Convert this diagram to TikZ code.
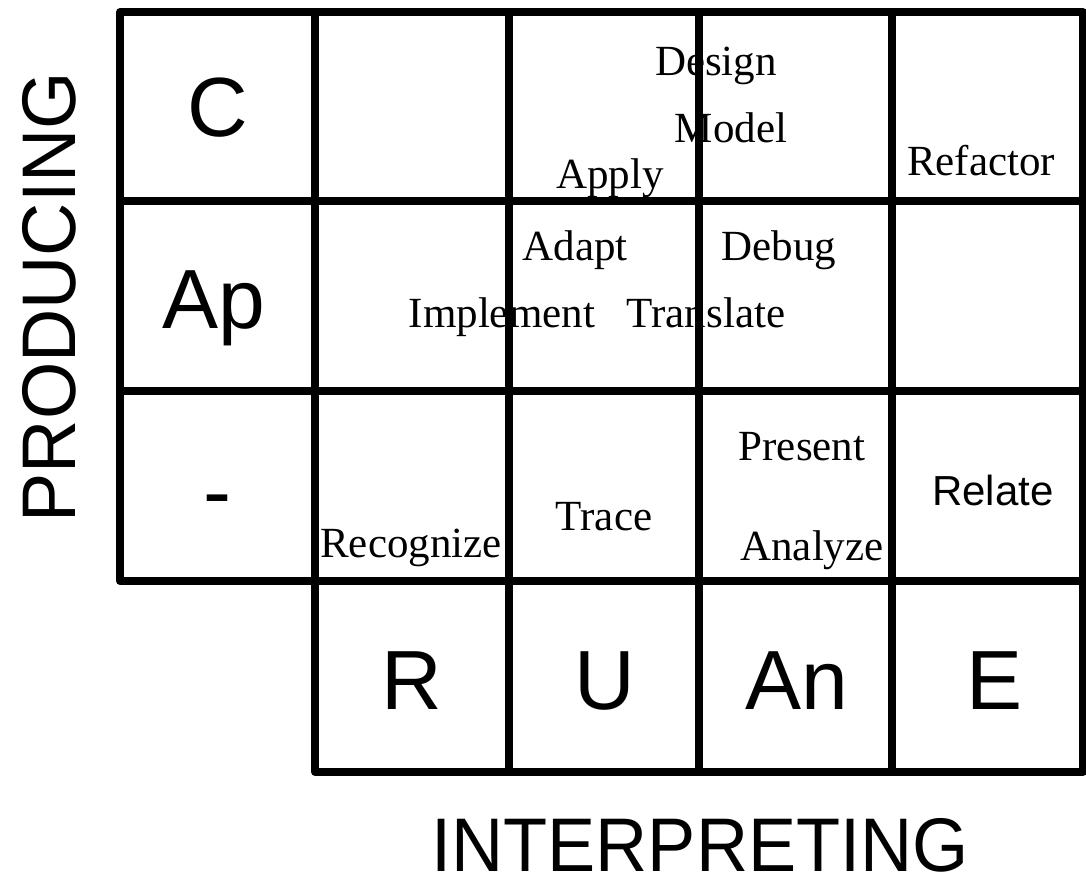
\documentclass[tikz,border=0pt]{standalone}
\usepackage{fontspec}
\setmainfont{Liberation Serif}
\setsansfont{Liberation Sans}

\begin{document}
\begin{tikzpicture}[x=1pt, y=-1pt, line width=7.5pt, line join=round,
        level/.style={font=\sffamily\fontsize{84}{84}\selectfont, anchor=base, inner sep=0pt},
        verb/.style={font=\fontsize{43}{43}\selectfont, anchor=base, inner sep=0pt},
        verbsans/.style={font=\sffamily\fontsize{42}{42}\selectfont, anchor=base, inner sep=0pt},
        axislabel/.style={font=\sffamily\fontsize{76}{76}\selectfont, anchor=base, inner sep=0pt}]
        \useasboundingbox (0,0) rectangle (1086,886);

        % grid
        \draw (120,12) rectangle (1083,581);
        \draw (315,581) -- (315,772) -- (1083,772) -- (1083,581);
        \foreach \y in {201,391} \draw (120,\y) -- (1083,\y);
        \foreach \x in {315,509,699,892} \draw (\x,12) -- (\x,772);

        % producing levels
        \node[level] (c) at (218,136) {C};
        \node[level] (ap) at (214,328) {Ap};
        \node[level] (none) at (217,520) {-};

        % interpreting levels
        \node[level] (r) at (412,709) {R};
        \node[level] (u) at (605,709) {U};
        \node[level] (an) at (797,709) {An};
        \node[level] (e) at (994,709) {E};

        % verbs
        \node[verb] (design) at (716,75) {Design};
        \node[verb] (model) at (731,142) {Model};
        \node[verb] (apply) at (610,188) {Apply};
        \node[verb] (refactor) at (981,175) {Refactor};
        \node[verb] (adapt) at (575,260) {Adapt};
        \node[verb] (debug) at (779,260) {Debug};
        \node[verb, anchor=base west] (implement) at (405,327) {Implement};
        \node[verb, anchor=base west] (translate) at (623,327) {Translate};
        \node[verb] (recognize) at (411,557) {Recognize};
        \node[verb] (trace) at (604,530) {Trace};
        \node[verb] (present) at (802,460) {Present};
        \node[verb] (analyze) at (812,560) {Analyze};
        \node[verbsans] (relate) at (993,505) {Relate};

        % axes
        \node[axislabel, rotate=90] (producing) at (75,297) {\scalebox{0.97}[1]{PRODUCING}};
        \node[axislabel] (interpreting) at (700,871) {\scalebox{0.95}[1]{INTERPRETING}};
    \end{tikzpicture}
\end{document}
